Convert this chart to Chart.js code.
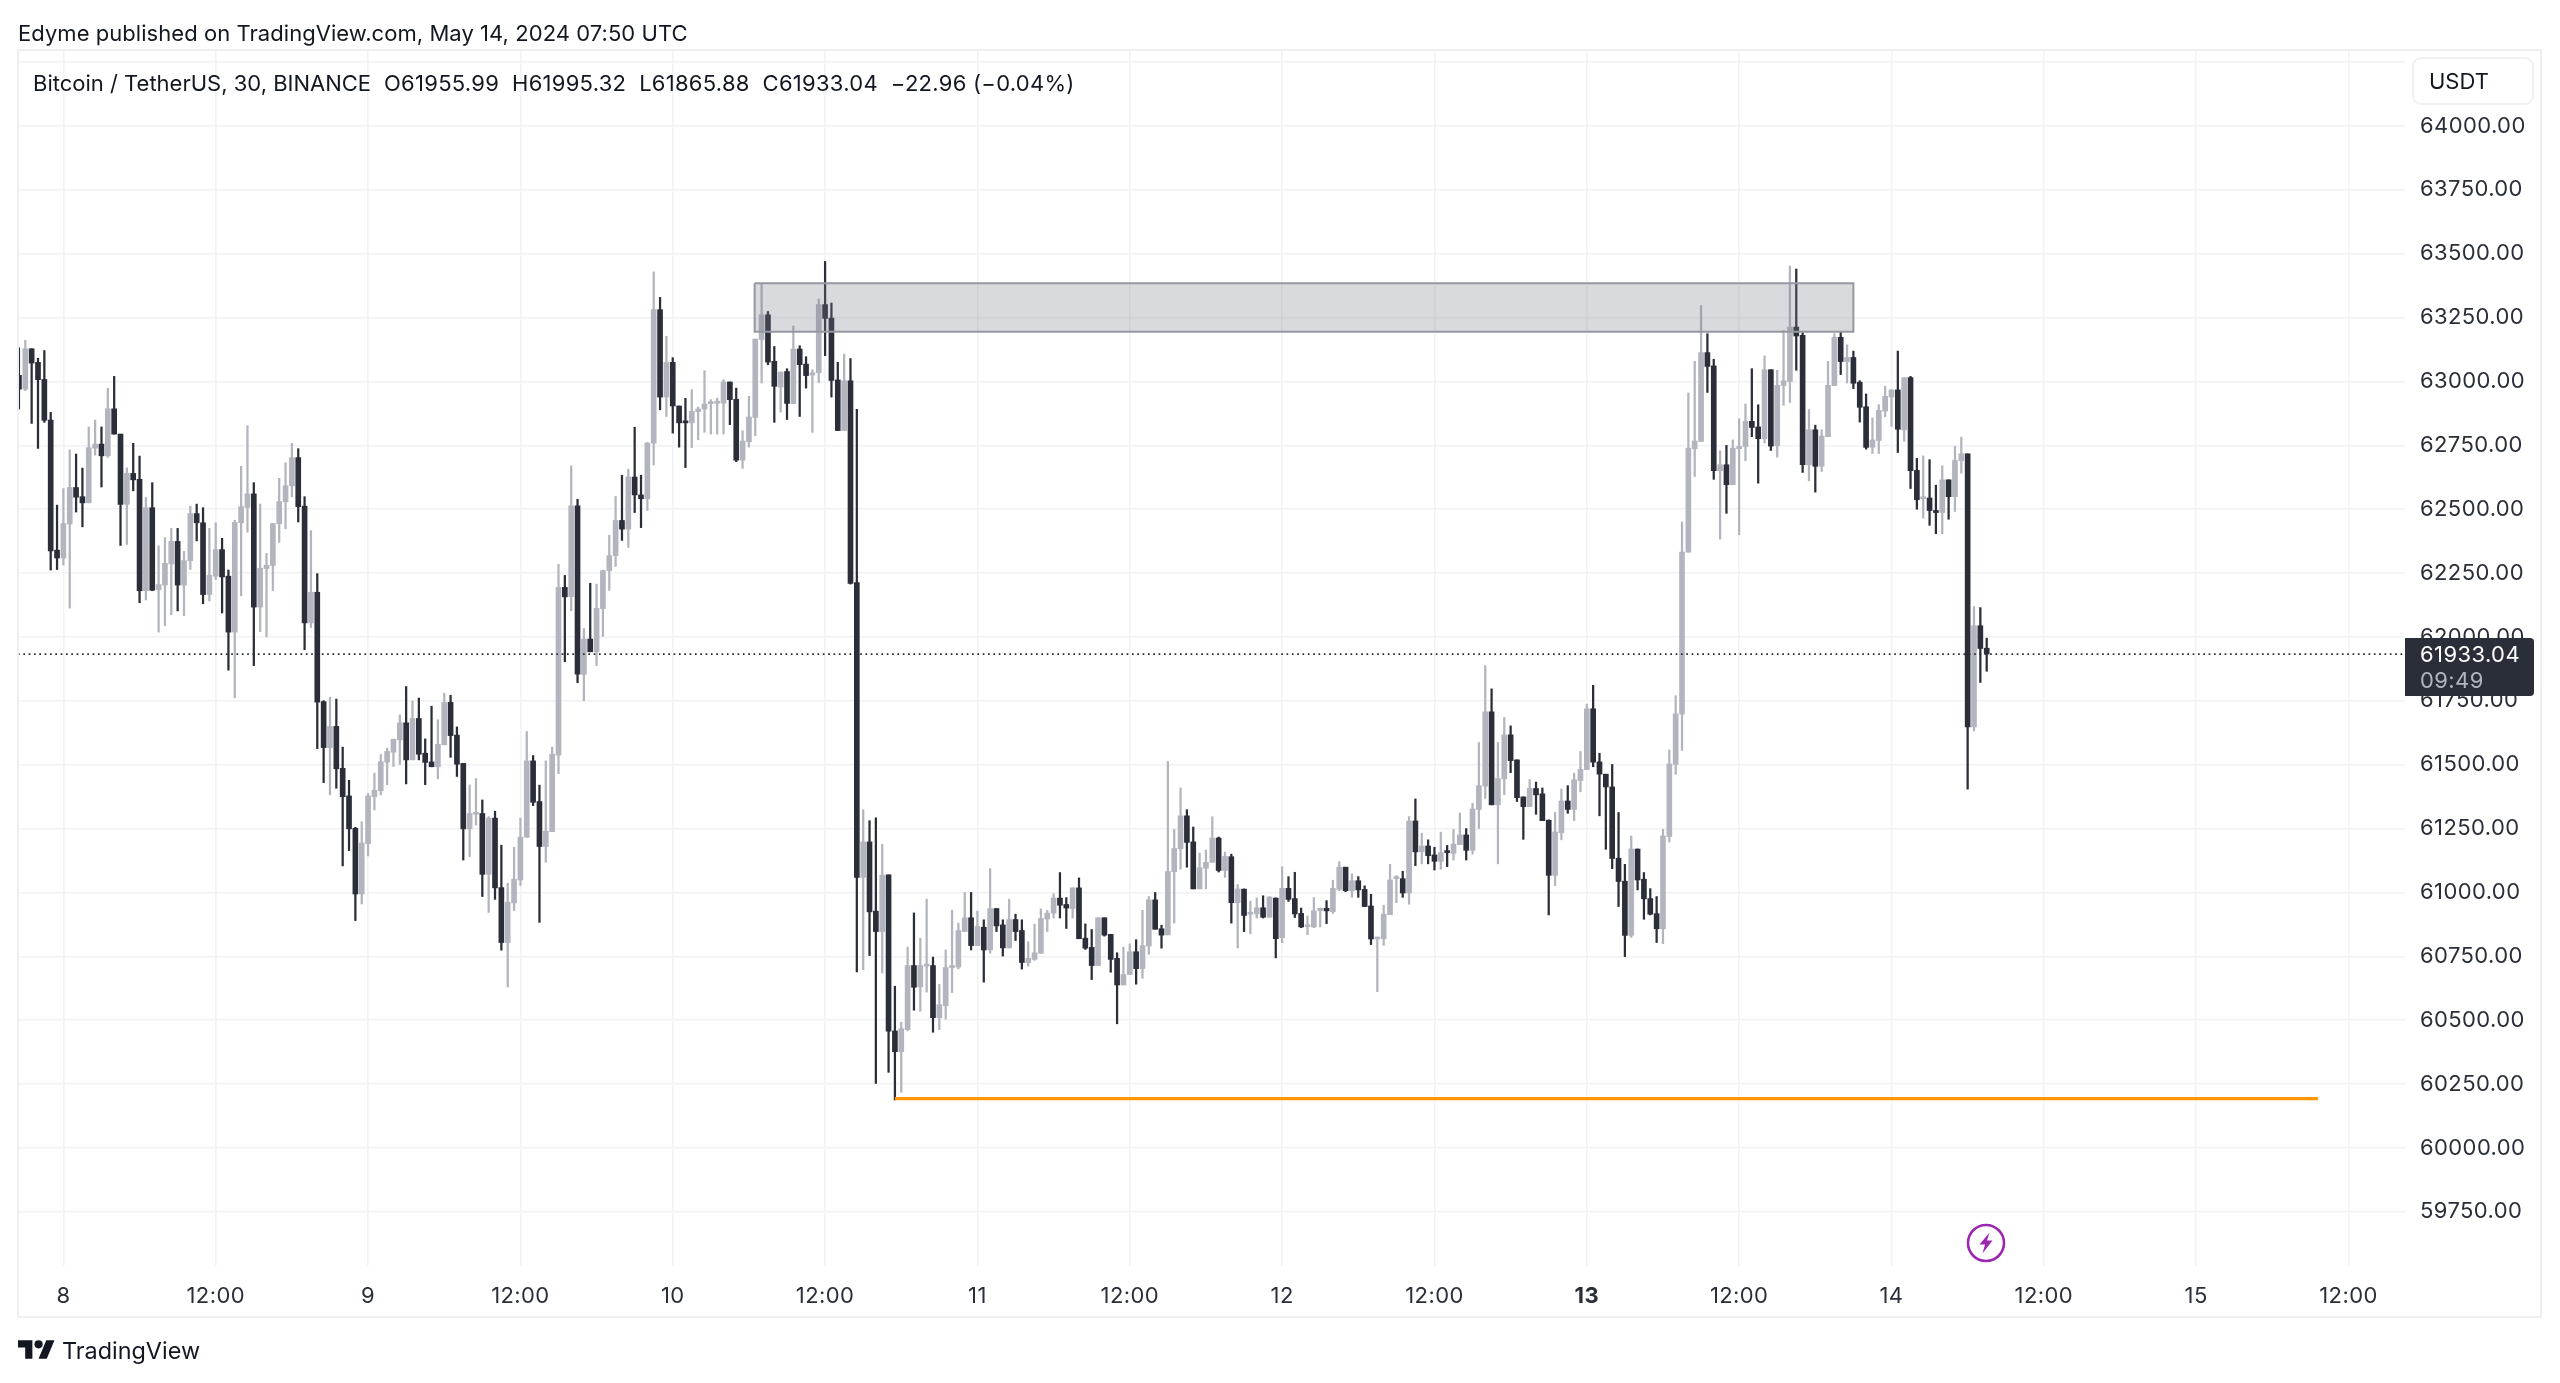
<!DOCTYPE html>
<html>
<head>
<meta charset="utf-8">
<script src="https://cdn.jsdelivr.net/npm/chart.js@4"></script>
<style>
html,body{margin:0;padding:0;background:#fff;width:2560px;height:1383px;overflow:hidden;font-family:Inter,sans-serif;color:#131722}
canvas{position:absolute;left:0;top:0}
.t{position:absolute;white-space:pre;line-height:1;transform:translateY(-50%)}
</style>
</head>
<body>
<canvas id="c" width="2560" height="1383"></canvas>
<div style="position:absolute;left:17px;top:49px;width:2525px;height:1269px;border:2px solid #eeeff3;box-sizing:border-box"></div>
<div class="t" id="pub" style="left:18px;top:33px;font-size:22px;letter-spacing:.05px"></div>
<div class="t" style="left:33px;top:83px;font-size:22px"><span id="legName"></span><span id="legVals" style="letter-spacing:.27px"></span></div>
<div style="position:absolute;left:2412px;top:57px;width:122px;height:48px;box-sizing:border-box;border:2px solid #f0f1f5;border-radius:9px;background:#fff"></div>
<div class="t" id="cur" style="left:2429px;top:81px;font-size:22px"></div>
<div style="position:absolute;left:2405px;top:638px;width:129px;height:58px;background:#2a2e39;border-radius:0 4px 4px 0"></div>
<div class="t" id="lastP" style="left:2420px;top:654px;font-size:22px;color:#fff;letter-spacing:.4px"></div>
<div class="t" id="lastT" style="left:2420px;top:680px;font-size:22px;color:#b2b5be;letter-spacing:.4px"></div>
<svg style="position:absolute;left:18px;top:1340px" width="37" height="19" viewBox="0 4 36 18"><path fill="#131722" d="M14 22H7V11H0V4h14v18zM28 22h-8l7.5-18h8L28 22z"/><circle fill="#131722" cx="20" cy="8" r="4"/></svg>
<div class="t" id="brand" style="left:62px;top:1351px;font-size:23.4px"></div>
<svg style="position:absolute;left:1964px;top:1221px" width="44" height="44" viewBox="-22 -22 44 44"><circle r="18" fill="#fff" stroke="#9c27b0" stroke-width="2.6"/><path fill="#9c27b0" d="M3.5-10.5-6.5 1.5H-1L-3.5 10.5 6.5-2.5H1z"/></svg>
<script>
const publishedText = 'Edyme published on TradingView.com, May 14, 2024 07:50 UTC';
const legendName = 'Bitcoin / TetherUS, 30, BINANCE';
const legendValues = '  O61955.99  H61995.32  L61865.88  C61933.04  \u221222.96 (\u22120.04%)';
const currencyText = 'USDT';
const brandText = 'TradingView';
const countdownText = '09:49';

const opens = [
63024,62970,63128,63075,63008,62849,62340,62309,62442,62585,
62549,62525,62739,62755,62709,62893,62794,62519,62640,62617,
62181,62506,62185,62203,62286,62374,62203,62298,62483,62447,
62166,62238,62342,62238,62019,62447,62507,62560,62117,62268,
62280,62443,62529,62592,62702,62512,62055,62175,61747,61567,
61650,61486,61378,61251,60994,61191,61375,61398,61510,61549,
61597,61664,61519,61681,61545,61511,61492,61578,61744,61616,
61505,61249,61306,61309,61071,61291,61019,60804,60959,61049,
61216,61515,61356,61180,61238,61537,62194,62158,62513,61854,
61992,61942,62111,62260,62318,62456,62422,62626,62556,62541,
62759,63281,62939,63075,62904,62842,62838,62882,62892,62913,
62915,62915,62998,62930,62692,62764,62859,63164,63261,63079,
62978,63039,62913,63127,63068,63025,63034,63301,63248,63006,
62808,63003,62213,61059,61198,60927,60847,61069,60458,60377,
60463,60714,60631,60712,60714,60510,60557,60706,60708,60847,
60901,60792,60864,60775,60937,60873,60783,60894,60851,60725,
60738,60762,60896,60919,60978,60953,60937,61018,60821,60785,
60714,60901,60836,60742,60638,60679,60768,60702,60790,60971,
60858,60834,61081,61171,61300,61198,61014,61095,61118,61213,
61086,61140,60960,61013,60915,60916,60940,60903,60978,60823,
61016,60976,60918,60866,60865,60929,60938,60925,61012,61099,
61007,61046,61012,60947,60818,60819,60913,61054,61054,60998,
61280,61159,61182,61147,61122,61160,61153,61187,61225,61165,
61325,61416,61707,61343,61445,61617,61519,61374,61336,61407,
61386,61283,61067,61234,61358,61325,61438,61481,61719,61511,
61463,61413,61134,61044,60832,61170,61052,60976,60917,60858,
61219,61501,61698,62332,62737,62765,63113,63061,62651,62674,
62596,62737,62745,62844,62822,62776,63046,62749,62984,63000,
63213,63181,62674,62811,62668,62784,62984,63173,63078,63094,
62997,62901,62743,62769,62884,62939,62967,62811,63015,62652,
62541,62544,62495,62487,62615,62549,62690,62717,61648,62044,
61955.99];

const closes = [
62970,63128,63072,63007,62848,62337,62309,62444,62585,62547,
62525,62741,62755,62709,62893,62794,62519,62641,62615,62181,
62506,62183,62205,62288,62374,62203,62299,62483,62447,62166,
62242,62342,62235,62019,62448,62510,62560,62117,62269,62281,
62444,62530,62592,62702,62510,62055,62175,61745,61567,61650,
61484,61375,61249,60994,61194,61378,61400,61512,61552,61600,
61664,61519,61681,61541,61509,61492,61580,61744,61614,61502,
61249,61309,61313,61071,61291,61018,60804,60962,61052,61217,
61515,61353,61180,61240,61541,62194,62157,62513,61854,61992,
61942,62112,62260,62318,62456,62422,62626,62556,62541,62759,
63281,62939,63075,62904,62838,62838,62883,62892,62912,62921,
62921,62998,62929,62692,62767,62861,63166,63261,63076,62981,
63037,62914,63127,63066,63023,63034,63301,63247,63004,62808,
63003,62210,61059,61198,60924,60847,61068,60457,60377,60467,
60714,60629,60714,60717,60510,60561,60706,60711,60851,60901,
60792,60867,60775,60937,60869,60783,60894,60847,60726,60742,
60764,60898,60919,60978,60950,60939,61018,60819,60782,60714,
60901,60833,60738,60638,60679,60768,60702,60792,60971,60856,
60833,61082,61172,61300,61196,61014,61097,61118,61213,61086,
61141,60960,61014,60910,60919,60940,60903,60982,60819,61016,
60973,60916,60865,60870,60928,60938,60928,61016,61099,61007,
61046,61010,60945,60818,60823,60915,61049,61059,60998,61280,
61159,61182,61144,61122,61156,61156,61189,61225,61165,61327,
61418,61707,61343,61446,61617,61516,61371,61336,61407,61382,
61281,61067,61237,61358,61325,61441,61482,61719,61510,61463,
61413,61133,61043,60832,61170,61049,60975,60915,60858,61221,
61503,61699,62332,62739,62767,63113,63059,62651,62674,62596,
62739,62746,62844,62820,62776,63046,62747,62985,63003,63213,
63178,62674,62811,62668,62786,62985,63173,63078,63094,62993,
62899,62742,62771,62887,62942,62967,62813,63015,62651,62537,
62547,62495,62487,62615,62549,62692,62717,61648,62044,61955,
61933.04];

const highs = [
63132,63161,63128,63091,63121,62879,62516,62581,62732,62716,
62661,62822,62849,62822,62973,63020,62794,62662,62758,62708,
62546,62604,62357,62389,62425,62425,62335,62512,62520,62506,
62425,62447,62386,62262,62457,62668,62827,62604,62520,62327,
62444,62621,62682,62758,62737,62549,62416,62248,61751,61764,
61757,61569,61439,61255,61277,61387,61467,61540,61565,61600,
61695,61806,61750,61761,61601,61729,61676,61780,61772,61648,
61505,61421,61446,61362,61297,61318,61185,61036,61177,61291,
61630,61536,61420,61515,61569,62284,62241,62670,62539,62033,
62210,62207,62262,62398,62550,62633,62657,62821,62633,62761,
63429,63329,63177,63093,62904,62934,62968,62900,63042,62929,
62935,63007,62998,62974,62807,62942,63166,63382,63274,63137,
63037,63050,63217,63140,63097,63046,63323,63470,63307,63075,
63107,63090,62891,61324,61281,61292,61188,61069,60633,60492,
60786,60920,60821,60974,60747,60640,60775,60931,60880,61000,
61000,60927,60893,61093,60937,60893,60974,60915,60893,60807,
60876,60936,60930,60995,61078,60980,61018,61057,60877,60855,
60901,60901,60836,60764,60786,60799,60815,60930,60984,61000,
60872,61513,61247,61409,61324,61256,61154,61166,61296,61217,
61158,61150,61031,61014,60966,60978,60987,60984,60979,61101,
61062,61079,60939,60908,60980,60938,60968,61048,61121,61099,
61073,61062,61026,60993,60823,60950,61110,61066,61083,61297,
61366,61232,61206,61177,61236,61184,61247,61311,61250,61349,
61587,61888,61797,61587,61685,61652,61519,61374,61442,61432,
61409,61284,61314,61405,61418,61467,61552,61737,61811,61545,
61463,61501,61313,61110,61221,61170,61078,61015,60984,61247,
61558,61770,62450,62955,63079,63297,63187,63087,62729,62750,
62771,62854,62912,63050,62909,63100,63046,63044,63200,63452,
63440,63191,62890,62829,62811,63079,63187,63196,63143,63119,
63003,62951,62857,62909,62981,62968,63119,63015,63020,62699,
62709,62694,62594,62670,62615,62746,62782,62717,62119,62115,
61995.32];

const lows = [
62892,62964,62836,62738,62840,62262,62264,62282,62113,62489,
62431,62525,62712,62587,62703,62794,62358,62362,62572,62134,
62145,62181,62019,62044,62087,62102,62083,62264,62376,62130,
62141,62225,62094,61870,61762,62161,62410,61888,62021,62000,
62181,62370,62423,62549,62450,61950,62037,61563,61430,61382,
61408,61104,61164,60890,60955,61143,61323,61382,61422,61493,
61501,61425,61519,61519,61422,61492,61445,61578,61529,61454,
61127,61140,61264,60984,60922,60973,60774,60630,60929,61027,
61216,61340,60883,61118,61238,61465,61903,62103,61821,61750,
61942,61888,62002,62182,62276,62378,62350,62487,62428,62495,
62673,62889,62863,62798,62743,62663,62741,62772,62801,62794,
62794,62794,62831,62686,62660,62743,62788,62994,63066,62840,
62880,62851,62913,62863,62974,62801,62996,63101,62939,62808,
62808,62207,60689,60698,60753,60253,60685,60296,60188,60218,
60458,60539,60535,60610,60453,60463,60504,60608,60701,60847,
60775,60792,60649,60762,60847,60751,60783,60812,60700,60712,
60734,60762,60847,60900,60900,60859,60900,60819,60777,60659,
60714,60829,60688,60486,60638,60679,60641,60664,60758,60856,
60782,60834,60880,61091,61099,61014,61014,61014,61118,61080,
61059,60880,60783,60847,60838,60900,60900,60903,60744,60804,
60965,60902,60862,60835,60862,60865,60878,60918,61007,61003,
60981,60981,60945,60796,60612,60793,60913,60960,60981,60954,
61105,61112,61112,61088,61091,61101,61127,61187,61127,61150,
61250,61368,61343,61112,61383,61469,61356,61208,61336,61306,
61281,60912,61027,61206,61310,61281,61394,61481,61492,61300,
61169,61093,60945,60749,60824,61010,60895,60912,60804,60800,
61197,61462,61556,62332,62628,62765,62957,62617,62383,62484,
62596,62400,62690,62784,62602,62759,62730,62704,62907,62918,
63044,62644,62611,62567,62648,62784,62984,63027,62994,62972,
62841,62735,62718,62718,62862,62824,62722,62766,62581,62500,
62465,62437,62404,62404,62461,62491,62641,61404,61632,61822,
61865.88];

// Bar numbers count 30-minute bars from May 8 00:00; the first visible bar is -7.
const firstBar = -7;
const xTickBars = [0,24,48,72,96,120,144,168,192,216,240,264,288,312,336,360];
const xTickLabels = ['8','12:00','9','12:00','10','12:00','11','12:00','12','12:00','13','12:00','14','12:00','15','12:00'];
const boldBar = 240;
const yTicks = [64250,64000,63750,63500,63250,63000,62750,62500,62250,62000,61750,61500,61250,61000,60750,60500,60250,60000,59750];
const zoneBars = [108.9, 282];
const zonePrices = [63384, 63195];
const supportBars = [131, 355.2];
const supportPrice = 60193;
const axisBars = [-7.15, 368.9];
const axisPrices = [59538, 64293.5];
const lastPrice = closes[closes.length - 1];

document.getElementById('pub').textContent = publishedText;
document.getElementById('legName').textContent = legendName;
document.getElementById('legVals').textContent = legendValues;
document.getElementById('cur').textContent = currencyText;
document.getElementById('brand').textContent = brandText;
document.getElementById('lastT').textContent = countdownText;
document.getElementById('lastP').textContent = lastPrice.toFixed(2);

const UP = '#b2b5be', DOWN = '#2a2e39';
const barColors = opens.map((o, i) => closes[i] >= o ? UP : DOWN);
const wickData = highs.map((h, i) => ({x: firstBar + i, y: [lows[i], h]}));
const bodyData = opens.map((o, i) => ({x: firstBar + i, y: [Math.min(o, closes[i]), Math.max(o, closes[i])]}));

const axisLetterSpacing = { id:'axisLetterSpacing', beforeDraw(chart){ chart.ctx.letterSpacing = '0.4px'; } };

new Chart(document.getElementById('c'), {
  type: 'bar',
  plugins: [axisLetterSpacing],
  data: { datasets: [
    { type:'line', data:[{x:axisBars[0],y:lastPrice},{x:axisBars[1],y:lastPrice}], borderColor:'#2a2e39', borderWidth:1.7, borderDash:[1.7,3.63], pointRadius:0, fill:false, tension:0 },
    { type:'line', data:[{x:zoneBars[0],y:zonePrices[0]},{x:zoneBars[1],y:zonePrices[0]},{x:zoneBars[1],y:zonePrices[1]},{x:zoneBars[0],y:zonePrices[1]},{x:zoneBars[0],y:zonePrices[0]}], borderColor:'#9598a1', borderWidth:2, backgroundColor:'rgba(120,123,134,0.28)', fill:'shape', pointRadius:0, tension:0 },
    { type:'line', data:[{x:supportBars[0],y:supportPrice},{x:supportBars[1],y:supportPrice}], borderColor:'#ff9800', borderWidth:3.2, pointRadius:0, fill:false, tension:0 },
    { data: bodyData, backgroundColor: barColors, barThickness:5, grouped:false, borderWidth:0, minBarLength:2 },
    { data: wickData, backgroundColor: barColors, barThickness:1.6, grouped:false, borderWidth:0 }
  ]},
  options: {
    responsive:false, animation:false, devicePixelRatio:1,
    layout:{padding:{left:18, top:51, right:0, bottom:0}},
    plugins:{legend:{display:false}, tooltip:{enabled:false}},
    scales:{
      x:{
        type:'linear', position:'bottom', offset:false, min:axisBars[0], max:axisBars[1],
        grid:{color:'#f1f2f5', lineWidth:1.5, offset:false, drawTicks:false},
        border:{display:false},
        afterFit(s){ s.height = 1383-1266; },
        afterBuildTicks(s){ s.ticks = xTickBars.map(v=>({value:v})); },
        ticks:{
          autoSkip:false, maxRotation:0, padding:17, color:'#2a2e39',
          font:c=>({family:'Inter', size:22, weight:c.tick && c.tick.value===boldBar?'700':'400'}),
          callback:v=>xTickLabels[xTickBars.indexOf(v)]
        }
      },
      y:{
        type:'linear', position:'right', min:axisPrices[0], max:axisPrices[1],
        grid:{color:'#f1f2f5', lineWidth:1.5, drawTicks:false},
        border:{display:false},
        afterFit(s){ s.width = 2560-2405; },
        afterBuildTicks(s){ s.ticks = yTicks.map(v=>({value:v})); },
        ticks:{
          padding:15, color:'#2a2e39', font:{family:'Inter', size:22},
          callback:v=>v>64000?'':v.toFixed(2)
        }
      }
    }
  }
});
</script>
</body>
</html>
